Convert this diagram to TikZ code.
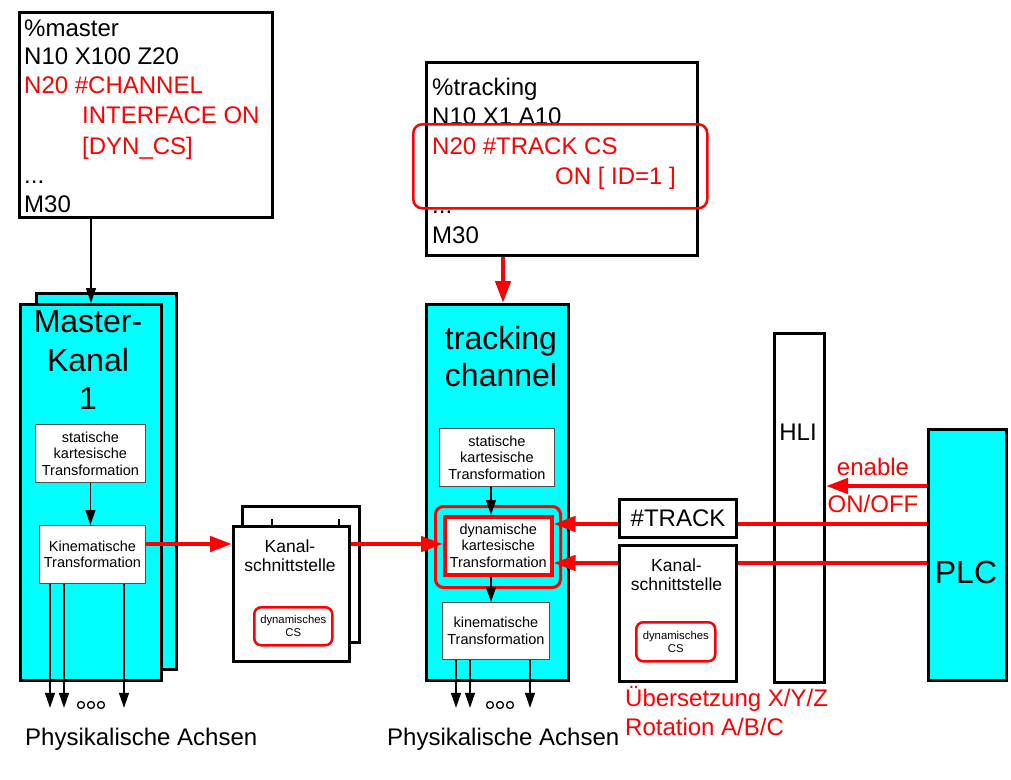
\documentclass[tikz,border=0pt]{standalone}
\usepackage{fontspec}
\setmainfont{Liberation Sans}
\usetikzlibrary{arrows.meta,calc}
\definecolor{cy}{HTML}{00FFFF}
\definecolor{rd}{HTML}{FF0000}
\begin{document}
\begin{tikzpicture}[x=1pt,y=-1pt,
  thickbox/.style={draw=black,line width=3pt,inner sep=0pt,anchor=north west},
  chanbox/.style={thickbox,fill=cy},
  whitebox/.style={thickbox,fill=white},
  smallbox/.style={draw=black!70,line width=0.8pt,fill=white,inner sep=0pt,anchor=north west},
  smalltxt/.style={inner sep=0pt,align=center,font=\fontsize{14.5}{16.5}\selectfont},
  kanaltxt/.style={inner sep=0pt,align=center,font=\fontsize{17.5}{19}\selectfont},
  csbox/.style={draw=rd,line width=2.5pt,rounded corners=7pt,fill=white,inner sep=0pt,anchor=north west},
  cstxt/.style={inner sep=0pt,align=center,font=\fontsize{11.3}{13}\selectfont},
  prog/.style={anchor=base west,inner sep=0pt,font=\fontsize{24}{29}\selectfont},
  lab/.style={inner sep=0pt,font=\fontsize{24}{29}\selectfont},
  bigt/.style={anchor=base,inner sep=0pt,font=\fontsize{32}{38}\selectfont},
  redarrow/.style={draw=rd,line width=4.5pt,-{Triangle[length=22pt,width=15pt]}},
  redline/.style={draw=rd,line width=4.5pt},
  blackarrow/.style={draw=black,line width=1.4pt,-{Triangle[length=15pt,width=10pt]}},
  dot/.style={draw=black,line width=1.3pt,circle,inner sep=0pt,minimum size=7pt},
]
\useasboundingbox[fill=white] (0,0) rectangle (1011,779);

% ---------- master program ----------
\node[whitebox,minimum width=253pt,minimum height=205pt] (mprog) at (18,11) {};
\node[prog] (m1) at (24,36) {\%master};
\node[prog] (m2) at (24,64) {N10 X100 Z20};
\node[prog,text=rd] (m3) at (24,93) {N20 \#CHANNEL};
\node[prog,text=rd] (m4) at (82,123) {INTERFACE ON};
\node[prog,text=rd] (m5) at (82,154) {[DYN\_CS]};
\node[prog] (m6) at (24,183) {...};
\node[prog] (m7) at (24,212) {M30};

% ---------- tracking program ----------
\node[whitebox,minimum width=271pt,minimum height=193pt] (tprog) at (425,61) {};
\node[prog] (t1) at (432,95) {\%tracking};
\node[prog] (t2) at (432,124) {N10 X1 A10};
\node[prog,text=rd] (t3) at (432,154) {N20 \#TRACK CS};
\node[prog,text=rd] (t4) at (555,184) {ON [ ID=1 ]};
\node[prog] (t5) at (432,213) {...};
\node[prog] (t6) at (432,243) {M30};
\node[draw=rd,line width=2.5pt,rounded corners=9pt,inner sep=0pt,anchor=north west,
      minimum width=294pt,minimum height=84pt] (trk) at (412,123) {};

% ---------- master channel ----------
\node[chanbox,minimum width=140pt,minimum height=376pt] (mback) at (35,292) {};
\node[chanbox,minimum width=141pt,minimum height=376pt] (mfront) at (19,303) {};
\node[bigt] (mk1) at (88,332) {Master-};
\node[bigt] (mk2) at (88,371) {Kanal};
\node[bigt] (mk3) at (88,409) {1};
\node[smallbox,minimum width=110pt,minimum height=58pt] (mstat) at (35,424) {};
\node[smalltxt] (mstatt) at (mstat.center) {statische\\kartesische\\Transformation};
\node[smallbox,minimum width=106pt,minimum height=58pt] (mkin) at (39,525) {};
\node[smalltxt] (mkint) at (mkin.center) {Kinematische\\Transformation};

% ---------- left Kanalschnittstelle ----------
\node[whitebox,minimum width=117pt,minimum height=136pt] (kback) at (241,505) {};
\coordinate (tk1) at (272,519);
\coordinate (tk2) at (339,519);
\draw[line width=1.5pt] (tk1) -- ++(0,6);
\draw[line width=1.5pt] (tk2) -- ++(0,6);
\node[whitebox,minimum width=116pt,minimum height=135pt] (kfront) at (232,525) {};
\node[kanaltxt] (kft) at (290,555.5) {Kanal-\\schnittstelle};
\node[csbox,minimum width=78pt,minimum height=38pt] (kcs) at (253,606) {};
\node[cstxt] (kcst) at (kcs.center) {dynamisches\\CS};

% ---------- tracking channel ----------
\node[chanbox,minimum width=142pt,minimum height=376pt] (tchan) at (425,303) {};
\node[bigt] (tc1) at (501,349) {tracking};
\node[bigt] (tc2) at (501,386) {channel};
\node[smallbox,minimum width=115pt,minimum height=58pt] (tstat) at (439,428) {};
\node[smalltxt] (tstatt) at (tstat.center) {statische\\kartesische\\Transformation};
\node[draw=rd,line width=3pt,rounded corners=8pt,inner sep=0pt,anchor=north west,
      minimum width=125pt,minimum height=81pt] (touter) at (434,505) {};
\node[smallbox,draw=rd,line width=3.5pt,minimum width=107pt,minimum height=58pt] (tdyn) at (443,515) {};
\node[smalltxt] (tdynt) at (tdyn.center) {dynamische\\kartesische\\Transformation};
\node[smallbox,minimum width=107pt,minimum height=57pt] (tkin) at (442,602) {};
\node[smalltxt] (tkint) at (tkin.center) {kinematische\\Transformation};

% ---------- right side ----------
\node[whitebox,minimum width=117pt,minimum height=38pt] (track) at (618,498) {};
\node[lab] (trackt) at (track.center) {\#TRACK};
\node[whitebox,minimum width=117pt,minimum height=136pt] (kright) at (618,544) {};
\node[kanaltxt] (krt) at (676.5,574.5) {Kanal-\\schnittstelle};
\node[csbox,minimum width=79pt,minimum height=39pt] (krcs) at (635,621) {};
\node[cstxt] (krcst) at (krcs.center) {dynamisches\\CS};
\node[whitebox,minimum width=50pt,minimum height=349pt] (hli) at (773,332) {};
\node[lab] (hlit) at (798,432) {HLI};
\node[chanbox,minimum width=78pt,minimum height=251pt] (plc) at (927,428) {};
\node[inner sep=0pt,font=\fontsize{32}{38}\selectfont] (plct) at (966,572) {PLC};

% ---------- black connectors ----------
\draw[blackarrow] ([xshift=73pt]mprog.south west) -- ([xshift=72pt]mfront.north west);
\draw[blackarrow] (mstat.south) -- (mstat.south |- mkin.north);
\draw[blackarrow] ([xshift=11pt]mkin.south west) -- ++(0,124);
\draw[blackarrow] ([xshift=25pt]mkin.south west) -- ++(0,124);
\draw[blackarrow] ([xshift=85pt]mkin.south west) -- ++(0,124);
\node[dot] (md1) at (81,705) {};
\node[dot] (md2) at (91,705) {};
\node[dot] (md3) at (101,705) {};

\coordinate (c3) at (491,0);
\draw[blackarrow] (tstat.south -| c3) -- (tdyn.north -| c3);
\draw[blackarrow] (tdyn.south -| c3) -- (tkin.north -| c3);
\draw[blackarrow] ([xshift=14pt]tkin.south west) -- ++(0,48);
\draw[blackarrow] ([xshift=28pt]tkin.south west) -- ++(0,48);
\draw[blackarrow] ([xshift=88pt]tkin.south west) -- ++(0,48);
\node[dot] (td1) at (490,705) {};
\node[dot] (td2) at (500,705) {};
\node[dot] (td3) at (510,705) {};

% ---------- red connectors ----------
\coordinate (r1) at (0,544);
\draw[redarrow] (mkin.east |- r1) -- (kfront.west |- r1);
\draw[redarrow] (kfront.east |- r1) -- (tdyn.west |- r1);
\coordinate (c2) at (503,0);
\draw[redarrow] (tprog.south -| c2) -- (tchan.north -| c2);
\coordinate (re) at (0,486);
\draw[redarrow] (plc.west |- re) -- (hli.east |- re);
\coordinate (rt) at (0,524);
\draw[redline] (plc.west |- rt) -- (track.east |- rt);
\draw[redarrow] (track.west |- rt) -- (tdyn.east |- rt);
\coordinate (rk) at (0,563);
\draw[redline] (plc.west |- rk) -- (kright.east |- rk);
\draw[redarrow] (kright.west |- rk) -- (tdyn.east |- rk);

% ---------- labels ----------
\node[lab,text=rd] (en) at (873,467) {enable};
\node[lab,text=rd] (onoff) at (873,504) {ON/OFF};
\node[prog,text=rd] (ueb) at (625,706) {Übersetzung X/Y/Z};
\node[prog,text=rd] (rot) at (625,735) {Rotation A/B/C};
\node[prog] (pa1) at (25,745) {Physikalische Achsen};
\node[prog] (pa2) at (387,745) {Physikalische Achsen};
\end{tikzpicture}
\end{document}
